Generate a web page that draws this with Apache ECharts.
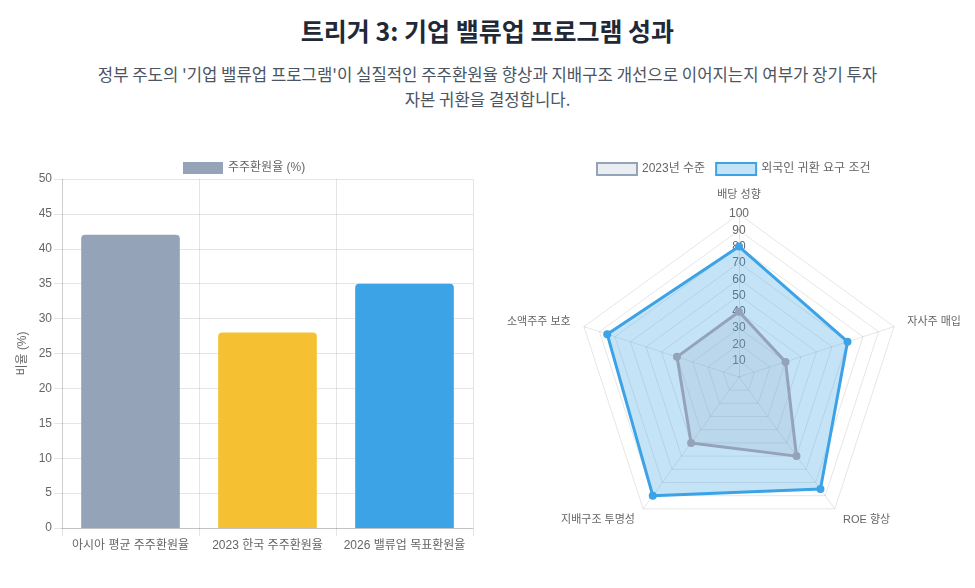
<!DOCTYPE html>
<html>
<head>
<meta charset="utf-8">
<script src="https://cdn.jsdelivr.net/npm/echarts@6/dist/echarts.min.js"></script>
<style>
  html, body { margin: 0; padding: 0; background: #fff; }
  body { width: 975px; height: 588px; overflow: hidden; font-family: "Noto Sans CJK KR", "Noto Sans", sans-serif; }
  .head { text-align: center; }
  .head h2 { margin: 0; padding-top: 14px; font-size: 25px; line-height: 32px; font-weight: 700; color: #1f2937; }
  .head p { width: 800px; margin: 16px auto 0; font-size: 16.7px; line-height: 25px; color: #4b5563; word-break: keep-all; }
  #main { position: absolute; left: 0; top: 130px; width: 975px; height: 458px; }
</style>
</head>
<body>
<div class="head">
  <h2>트리거 3: 기업 밸류업 프로그램 성과</h2>
  <p>정부 주도의 '기업 밸류업 프로그램'이 실질적인 주주환원율 향상과 지배구조 개선으로 이어지는지 여부가 장기 투자 자본 귀환을 결정합니다.</p>
</div>
<div id="main"></div>
<script>
// 막대 차트 데이터
var barCategories = ['아시아 평균 주주환원율', '2023 한국 주주환원율', '2026 밸류업 목표환원율'];
var barValues = [42, 28, 35];
var barColors = ['#95a3b9', '#f5c032', '#3ca3e6'];

// 레이더 차트 데이터 (시계 방향 순서)
var radarAxes = ['배당 성향', '자사주 매입', 'ROE 향상', '지배구조 투명성', '소액주주 보호'];
var level2023 = [40, 30, 60, 50, 40];
var levelTarget = [80, 70, 85, 90, 85];

// echarts 레이더는 반시계 방향이라 첫 항목 뒤를 뒤집음
function cw(arr) {
  return [arr[0]].concat(arr.slice(1).reverse());
}

var font = '"Liberation Sans", "Noto Sans CJK KR", sans-serif';
var grid = 'rgba(0,0,0,0.1)';

var chart = echarts.init(document.getElementById('main'));

var option = {
  textStyle: { fontFamily: font },
  animation: false,
  legend: [
    {
      left: 178, top: 27,
      icon: 'rect', itemWidth: 40, itemHeight: 12,
      textStyle: { color: '#666', fontSize: 12, fontFamily: font },
      data: ['주주환원율 (%)']
    },
    {
      left: 591, top: 27,
      icon: 'rect', itemWidth: 40, itemHeight: 12, itemGap: 10,
      textStyle: { color: '#666', fontSize: 12, fontFamily: font },
      data: [
        { name: '2023년 수준', itemStyle: { color: 'rgba(149,163,185,0.2)', borderColor: '#95a3b9', borderWidth: 2 } },
        { name: '외국인 귀환 요구 조건', itemStyle: { color: 'rgba(60,163,230,0.3)', borderColor: '#3ca3e6', borderWidth: 2 } }
      ]
    }
  ],
  grid: { left: 62, right: 502, top: 49, bottom: 60 },
  xAxis: {
    type: 'category',
    data: barCategories,
    axisLine: { lineStyle: { color: 'rgba(0,0,0,0.15)' } },
    axisTick: { show: true, interval: 0, length: 8, lineStyle: { color: grid } },
    axisLabel: { color: '#666', fontSize: 12, margin: 12, interval: 0 },
    splitLine: { show: true, interval: 0, lineStyle: { color: grid } }
  },
  yAxis: {
    type: 'value',
    min: 0, max: 50, interval: 5,
    name: '비율 (%)',
    nameLocation: 'middle',
    nameRotate: 90,
    nameGap: 33,
    nameTextStyle: { color: '#666', fontSize: 12 },
    axisLine: { show: true, lineStyle: { color: grid } },
    axisTick: { show: true, length: 8, lineStyle: { color: grid } },
    axisLabel: { color: '#666', fontSize: 12, margin: 10 },
    splitLine: { lineStyle: { color: grid } }
  },
  radar: {
    center: [739, 247],
    radius: 163,
    shape: 'polygon',
    splitNumber: 10,
    startAngle: 90,
    indicator: cw(radarAxes).map(function (n) { return { name: n, min: 0, max: 100 }; }),
    axisName: { color: '#666', fontSize: 11, fontFamily: font },
    nameGap: 14,
    axisLine: { lineStyle: { color: grid } },
    splitLine: { lineStyle: { color: grid } },
    splitArea: { show: false }
  },
  // 눈금 숫자용 극좌표
  polar: { center: [739, 247], radius: 163 },
  angleAxis: { show: false, startAngle: 90, min: 0, max: 360 },
  radiusAxis: {
    min: 0, max: 100, interval: 10,
    axisLine: { show: false },
    axisTick: { show: false },
    splitLine: { show: false },
    axisLabel: {
      color: '#666', fontSize: 12, margin: 0, align: 'center', verticalAlign: 'middle',
      showMinLabel: false
    }
  },
  series: [
    {
      name: '주주환원율 (%)',
      type: 'bar',
      barWidth: '72%',
      itemStyle: { color: barColors[0], borderRadius: [4, 4, 0, 0] },
      data: barValues.map(function (v, i) {
        return { value: v, itemStyle: { color: barColors[i] } };
      })
    },
    {
      type: 'radar',
      z: 3,
      symbol: 'circle',
      symbolSize: 8,
      // 2023 수준이 위에 그려지도록 뒤에 둠
      data: [
        {
          name: '외국인 귀환 요구 조건',
          value: cw(levelTarget),
          itemStyle: { color: '#3ca3e6' },
          lineStyle: { color: '#3ca3e6', width: 3 },
          areaStyle: { color: 'rgba(60,163,230,0.3)', opacity: 1 }
        },
        {
          name: '2023년 수준',
          value: cw(level2023),
          itemStyle: { color: '#95a3b9' },
          lineStyle: { color: '#95a3b9', width: 3 },
          areaStyle: { color: 'rgba(149,163,185,0.2)', opacity: 1 }
        }
      ]
    }
  ]
};

chart.setOption(option);
</script>
</body>
</html>
